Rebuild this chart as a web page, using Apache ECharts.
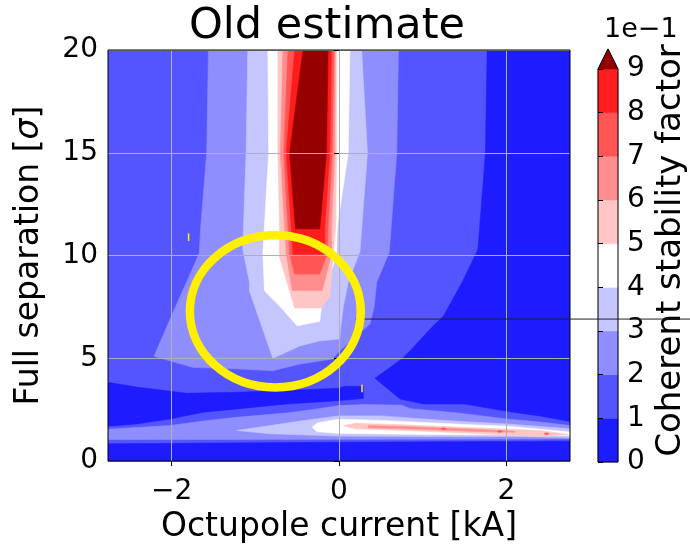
<!DOCTYPE html>
<html><head><meta charset="utf-8">
<script src="https://cdn.jsdelivr.net/npm/echarts@6/dist/echarts.min.js"></script>
<style>html,body{margin:0;padding:0;background:#fff}#c{width:690px;height:549px}</style>
</head><body><div id="c"></div>
<script>
// ---------- axes / ticks ----------
const xRange = [-2.76, 2.76];          // Octupole current [kA]
const yRange = [0, 20];                // Full separation [σ]
const xTicks = [-2, 0, 2];
const yTicks = [0, 5, 10, 15, 20];
const cbTicks = [0, 1, 2, 3, 4, 5, 6, 7, 8, 9];   // ×1e-1
const cbExtendTop = 9.46;              // extend='max' triangle apex
const levelColors = ['#1c1cff','#5555ff','#8e8eff','#c6c6ff','#ffffff',
                     '#ffc6c6','#ff8e8e','#ff5555','#ff1c1c','#960000'];

// ---------- filled contour regions [kA, σ] (drawn in order) ----------
const regAll = [[-2.76,0],[2.76,0],[2.76,20],[-2.76,20]];
const reg0Right = [[1.77,20],[2.76,20],[2.76,1.93],[2.40,2.2],[2.04,2.4],[1.5,2.78],[1.01,2.78],[0.73,3.02],[0.43,4.03],[0.75,4.97],[0.87,5.45],[1.09,6.43],[1.25,7.07],[1.47,8.69],[1.66,10.3],[1.75,15]];
const reg0Band = [[-2.76,3.83],[-2.42,3.6],[-1.82,3.3],[-1.22,3.35],[-0.62,3.43],[0.0,3.55],[0.06,3.64],[0.29,3.64],[0.29,3.05],[-0.02,2.94],[-0.62,2.78],[-1.22,2.54],[-1.62,2.38],[-2.02,2.05],[-2.42,1.81],[-2.76,1.7]];
const reg0Bottom = [[-2.76,0],[2.76,0],[2.76,0.97],[0.0,0.92],[-2.76,0.84]];
const reg2Upper = [[-1.56,20],[0.71,20],[0.69,15],[0.60,10.15],[0.45,8.7],[0.42,7.5],[0.37,6.67],[0.18,6.0],[0.01,5.37],[-0.08,4.97],[-0.47,4.72],[-0.79,4.4],[-1.19,4.48],[-1.75,4.56],[-2.21,5.1],[-2.0,7.07],[-1.67,10.1],[-1.65,11.5],[-1.58,15]];
const reg3Upper = [[-1.09,20],[0.27,20],[0.34,15],[0.25,10.2],[0.11,8.7],[0.05,7.5],[0.02,6.5],[0.01,5.94],[-0.23,5.85],[-0.47,5.6],[-0.79,5.0],[-1.07,8.28],[-1.07,8.7],[-1.15,10.3],[-1.11,15]];
const reg4Upper = [[-0.85,20],[0.13,20],[0.11,15],[-0.02,11.4],[-0.03,10.1],[-0.09,9.25],[-0.11,8.7],[-0.21,7.48],[-0.23,6.8],[-0.5,6.58],[-0.71,7.55],[-0.89,8.28],[-0.91,10.1],[-0.84,15]];
const reg5Upper = [[-0.73,20],[-0.03,20],[-0.03,15],[-0.04,11.4],[-0.07,10.1],[-0.11,8.0],[-0.21,7.45],[-0.53,7.45],[-0.71,9.9],[-0.71,11.4],[-0.73,15]];
const reg6Upper = [[-0.67,20],[-0.045,20],[-0.05,15],[-0.09,11.4],[-0.09,10.1],[-0.2,8.3],[-0.56,8.3],[-0.63,10.1],[-0.65,11.4],[-0.70,15]];
const reg7Upper = [[-0.61,20],[-0.06,20],[-0.08,15],[-0.13,11.4],[-0.14,10.1],[-0.23,9.1],[-0.53,9.1],[-0.59,10.1],[-0.61,11.4],[-0.66,15]];
const reg8Upper = [[-0.53,20],[-0.09,20],[-0.11,15],[-0.17,11.4],[-0.17,10.06],[-0.55,10.06],[-0.57,11.4],[-0.63,15]];
const reg9Upper = [[-0.43,20],[-0.13,20],[-0.15,15],[-0.23,11.3],[-0.52,11.3],[-0.59,15]];
const streak2 = [[-2.76,1.55],[-2.02,1.73],[-1.62,1.95],[-1.22,2.13],[-0.6,2.35],[-0.26,2.54],[0.0,2.7],[0.3,2.75],[0.75,2.72],[0.85,2.55],[1.4,2.35],[2.0,2.05],[2.4,1.9],[2.76,1.73],[2.76,1.08],[0.0,1.06],[-2.76,1.05]];
const streak3 = [[-1.22,1.49],[-0.82,1.73],[-0.42,1.97],[0.0,2.2],[0.5,2.2],[1.0,2.05],[1.5,1.92],[2.0,1.81],[2.4,1.68],[2.76,1.57],[2.76,1.15],[2.0,1.2],[1.0,1.2],[0.0,1.22],[-0.82,1.33]];
const streak4 = [[-0.32,1.65],[-0.26,1.85],[-0.1,1.97],[0.0,2.03],[0.5,1.98],[1.0,1.88],[1.5,1.78],[2.0,1.7],[2.4,1.55],[2.76,1.41],[2.76,1.24],[2.0,1.28],[1.0,1.3],[0.0,1.35],[-0.26,1.43]];
const streak5 = [[0.05,1.72],[0.2,1.84],[0.8,1.76],[1.6,1.62],[2.4,1.49],[2.74,1.3],[2.4,1.2],[1.6,1.35],[0.8,1.49],[0.2,1.57]];
const streak6 = [[0.35,1.72],[0.8,1.68],[1.6,1.55],[2.1,1.45],[2.1,1.4],[1.6,1.45],[0.8,1.57],[0.35,1.62]];
const dot7a = [[1.22,1.57],[1.25,1.62],[1.28,1.57],[1.25,1.52]];
const dot7b = [[1.89,1.44],[1.92,1.49],[1.95,1.44],[1.92,1.39]];
const dot7c = [[2.45,1.33],[2.48,1.38],[2.51,1.33],[2.48,1.28]];

const regions = [
  {lvl:1, pts:regAll}, {lvl:0, pts:reg0Right}, {lvl:0, pts:reg0Band}, {lvl:0, pts:reg0Bottom},
  {lvl:2, pts:reg2Upper}, {lvl:3, pts:reg3Upper}, {lvl:4, pts:reg4Upper}, {lvl:5, pts:reg5Upper},
  {lvl:6, pts:reg6Upper}, {lvl:7, pts:reg7Upper}, {lvl:8, pts:reg8Upper}, {lvl:9, pts:reg9Upper},
  {lvl:2, pts:streak2}, {lvl:3, pts:streak3}, {lvl:4, pts:streak4}, {lvl:5, pts:streak5},
  {lvl:6, pts:streak6}, {lvl:7, pts:dot7a}, {lvl:7, pts:dot7b}, {lvl:7, pts:dot7c}
];

// ---------- annotations ----------
const ellipse = [-0.761, 7.286, 1.021, 3.70];       // cx, cy, rx, ry (data units)
const hLine = [0.2, 6.91];                           // start of black horizontal line
const yellowMarks = [[-1.797, 10.71, 11.08], [0.275, 3.35, 3.72]];

const FONT = 'DejaVu Sans';
const minus = s => String(s).replace('-', '\u2212');
const chart = echarts.init(document.getElementById('c'));

chart.setOption({
  animation: false,
  backgroundColor: '#fff',
  title: [
    {text: 'Old estimate', left: 189, top: 5, padding: 0,
     textStyle: {fontFamily: FONT, fontSize: 43, fontWeight: 'normal', color: '#000'}},
    {text: '1e\u22121', left: 604, top: 16, padding: 0,
     textStyle: {fontFamily: FONT, fontSize: 27, fontWeight: 'normal', color: '#000'}}
  ],
  grid: [
    {left: 108, top: 50, width: 462, height: 412, show: true, borderColor: '#000', borderWidth: 1,
     backgroundColor: 'transparent', z: 4},
    {left: 598, top: 69, width: 20, height: 393, show: false}
  ],
  xAxis: [
    {gridIndex: 0, type: 'value', min: xRange[0], max: xRange[1], z: 3,
     axisLine: {show: false},
     axisTick: {show: true, customValues: xTicks, length: 5, lineStyle: {color: '#000', width: 1}},
     axisLabel: {customValues: xTicks, formatter: v => minus(v), margin: 17,
                 fontFamily: FONT, fontSize: 28, color: '#000'},
     splitLine: {show: true, lineStyle: {color: '#b0b0b0', width: 1}},
     name: 'Octupole current [kA]', nameLocation: 'middle', nameGap: 47,
     nameTextStyle: {fontFamily: FONT, fontSize: 33, color: '#000'}},
    {gridIndex: 1, type: 'value', min: 0, max: 1, show: false}
  ],
  yAxis: [
    {gridIndex: 0, type: 'value', min: yRange[0], max: yRange[1], interval: 5, z: 3,
     axisLine: {show: false},
     axisTick: {show: true, length: 5, lineStyle: {color: '#000', width: 1}},
     axisLabel: {margin: 10, fontFamily: FONT, fontSize: 28, color: '#000'},
     splitLine: {show: true, lineStyle: {color: '#b0b0b0', width: 1}},
     name: 'Full separation [{i|σ}]', nameLocation: 'middle', nameGap: 62, nameRotate: 90,
     nameTextStyle: {fontFamily: FONT, fontSize: 33, color: '#000',
                     rich: {i: {fontFamily: FONT, fontSize: 33, fontStyle: 'italic', color: '#000'}}}},
    {gridIndex: 1, type: 'value', min: 0, max: 9, interval: 1, position: 'right', z: 3,
     axisLine: {show: false},
     axisTick: {show: true, length: 5, lineStyle: {color: '#000', width: 1}},
     axisLabel: {margin: 9, fontFamily: FONT, fontSize: 28, color: '#000'},
     splitLine: {show: false},
     name: 'Coherent stability factor', nameLocation: 'middle', nameGap: 36, nameRotate: 90,
     nameTextStyle: {fontFamily: FONT, fontSize: 34, color: '#000', padding: [0, 0, 0, 30]}}
  ],
  series: [
    {type: 'custom', xAxisIndex: 0, yAxisIndex: 0, z: 1, clip: true, silent: true,
     data: regions.map((r, i) => i),
     renderItem: (params, api) => {
       const r = regions[params.dataIndex];
       const c = levelColors[r.lvl];
       return {type: 'polygon', shape: {points: r.pts.map(p => api.coord(p))},
               style: {fill: c, stroke: c, lineWidth: 0.6}};
     }},
    {type: 'custom', xAxisIndex: 0, yAxisIndex: 0, z: 6, clip: false, silent: true,
     data: [hLine],
     renderItem: (params, api) => {
       const p = api.coord([api.value(0), api.value(1)]);
       return {type: 'line', shape: {x1: p[0], y1: p[1], x2: api.getWidth(), y2: p[1]},
               style: {stroke: '#222', lineWidth: 1}};
     }},
    {type: 'custom', xAxisIndex: 0, yAxisIndex: 0, z: 7, clip: false, silent: true,
     data: [ellipse],
     renderItem: (params, api) => {
       const c = api.coord([api.value(0), api.value(1)]);
       const s = api.size([api.value(2), api.value(3)]);
       return {type: 'ellipse', shape: {cx: c[0], cy: c[1], rx: s[0], ry: s[1]},
               style: {fill: 'none', stroke: '#fff000', lineWidth: 8.5}};
     }},
    {type: 'custom', xAxisIndex: 0, yAxisIndex: 0, z: 7, clip: false, silent: true,
     data: yellowMarks,
     renderItem: (params, api) => {
       const a = api.coord([api.value(0), api.value(1)]);
       const b = api.coord([api.value(0), api.value(2)]);
       return {type: 'line', shape: {x1: a[0], y1: a[1], x2: b[0], y2: b[1]},
               style: {stroke: '#fff000', lineWidth: 1.5}};
     }},
    // colorbar bands
    {type: 'custom', xAxisIndex: 1, yAxisIndex: 1, z: 1, clip: false, silent: true,
     data: cbTicks.slice(0, 9).map(l => [l, l + 1]),
     renderItem: (params, api) => {
       const p0 = api.coord([0, api.value(0)]);
       const p1 = api.coord([1, api.value(1)]);
       const c = levelColors[params.dataIndex];
       return {type: 'rect', shape: {x: p0[0], y: p1[1], width: p1[0] - p0[0], height: p0[1] - p1[1]},
               style: {fill: c, stroke: c, lineWidth: 0.5}};
     }},
    // colorbar extension triangle + outline
    {type: 'custom', xAxisIndex: 1, yAxisIndex: 1, z: 2, clip: false, silent: true,
     data: [[cbTicks[9], cbExtendTop]],
     renderItem: (params, api) => {
       const top = api.value(0), apex = api.value(1);
       const tri = [[0, top], [0.5, apex], [1, top]].map(p => api.coord(p));
       const outline = [[0, 0], [0, top], [0.5, apex], [1, top], [1, 0], [0, 0]].map(p => api.coord(p));
       return {type: 'group', children: [
         {type: 'polygon', shape: {points: tri}, style: {fill: levelColors[9], stroke: levelColors[9], lineWidth: 0.5}},
         {type: 'polyline', shape: {points: outline}, style: {fill: 'none', stroke: '#000', lineWidth: 1}}
       ]};
     }}
  ]
});
</script></body></html>
